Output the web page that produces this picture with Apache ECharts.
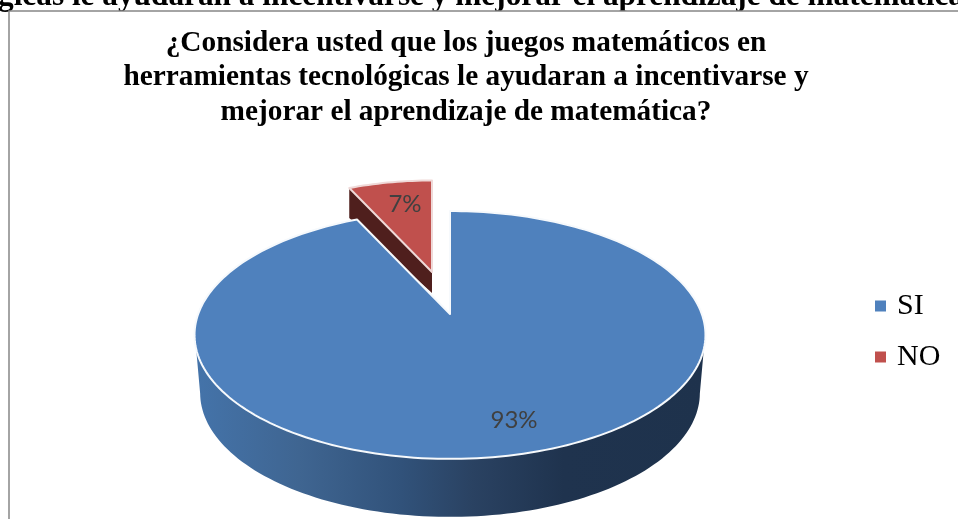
<!DOCTYPE html>
<html>
<head>
<meta charset="utf-8">
<style>html,body{margin:0;padding:0;background:#fff}#chart{width:958px;height:519px}</style>
<script src="https://cdn.jsdelivr.net/npm/echarts@6/dist/echarts.min.js"></script>
</head>
<body>
<div id="chart"></div>
<script>
// Survey answers, in percent
const categories = ['SI', 'NO'];
const shares = [93, 7];
const titleLines = [
  '¿Considera usted que los juegos matemáticos en',
  'herramientas tecnológicas le ayudaran a incentivarse y',
  'mejorar el aprendizaje de matemática?'
];
const headingLine = 'tecnológicas le ayudaran a incentivarse y mejorar el aprendizaje de matemática?';

// Tilted-disc projection: a unit circle seen in perspective, k is the foreshortening
const k = -0.169;
const sliceLook = {
  SI: {
    apex: [450, 314], a: 251.8, b: 120.4,
    base: { dy: 58, sx: 0.978 },
    top: '#4f81bd', edge: '#f6f9fc', label: [514, 420],
    wallArc: { top: [106, 254], bottom: [100, 260] }
  },
  NO: {
    apex: [432, 272], a: 224, b: 107,
    depth: 24,
    top: '#c0504d', edge: '#efd9d8', label: [405, 204],
    wall: '#4f1f1d'
  }
};
const wallFill = {
  type: 'linear', x: 198, y: 0, x2: 706, y2: 0, global: true,
  colorStops: [
    { offset: 0, color: '#4473a9' },
    { offset: 0.2, color: '#3f6591' },
    { offset: 0.4, color: '#31527a' },
    { offset: 0.54, color: '#2a4262' },
    { offset: 0.72, color: '#1f334e' },
    { offset: 1, color: '#1e324c' }
  ]
};

function project(look, deg, dy, sx) {
  const t = deg * Math.PI / 180;
  const u = Math.sin(t), v = -Math.cos(t);
  const w = 1 + k * v;
  return [look.apex[0] + (sx || 1) * look.a * u / w, look.apex[1] + (dy || 0) + look.b * v / w];
}

function sweep(look, from, to, dy, sx) {
  const pts = [];
  const n = Math.max(2, Math.ceil(Math.abs(to - from) / 1.5));
  for (let i = 0; i <= n; i++) pts.push(project(look, from + (to - from) * i / n, dy, sx));
  return pts;
}

function makeSeries(name, index) {
  const look = sliceLook[name];
  const total = shares.reduce((s, x) => s + x, 0);
  const before = shares.slice(0, index).reduce((s, x) => s + x, 0);
  return {
    type: 'custom',
    name: name,
    coordinateSystem: 'none',
    silent: true,
    z: 10 + (index === 0 ? 2 : 1),
    itemStyle: { color: look.top },
    data: [[shares[index]]],
    renderItem: function (params, api) {
      const value = api.value(0);
      const start = before / total * 360;
      const end = start + value / total * 360;
      const children = [];
      if (look.wallArc) {
        const upper = sweep(look, look.wallArc.top[0], look.wallArc.top[0], 0);
        const lower = sweep(look, look.wallArc.bottom[0], look.wallArc.bottom[1], look.base.dy, look.base.sx);
        const upperEnd = sweep(look, look.wallArc.top[1], look.wallArc.top[1], 0);
        children.push({
          type: 'polygon',
          shape: { points: [upper[0]].concat(lower, [upperEnd[0]]) },
          style: { fill: wallFill }
        });
      } else {
        const corner = project(look, start);
        children.push({
          type: 'polygon',
          shape: { points: [look.apex, corner, [corner[0], corner[1] + look.depth + 6], [look.apex[0], look.apex[1] + look.depth - 3]] },
          style: { fill: look.wall }
        });
      }
      children.push({
        type: 'polygon',
        shape: { points: [look.apex].concat(sweep(look, start, end)) },
        style: { fill: look.top, stroke: look.edge, lineWidth: 2, lineJoin: 'round' }
      });
      children.push({
        type: 'text',
        x: look.label[0], y: look.label[1],
        style: {
          text: value + '%', fill: '#404040',
          font: '24px Lato, sans-serif',
          align: 'center', verticalAlign: 'middle'
        }
      });
      return { type: 'group', children: children };
    }
  };
}

const chart = echarts.init(document.getElementById('chart'), null, { renderer: 'canvas' });
chart.setOption({
  animation: false,
  backgroundColor: '#ffffff',
  title: {
    text: titleLines.join('\n'),
    left: 461, top: 21, textAlign: 'center',
    textStyle: {
      fontFamily: '"Liberation Serif", serif', fontWeight: 'bold',
      fontSize: 29.3, lineHeight: 34.5, color: '#000000'
    }
  },
  legend: {
    data: categories,
    orient: 'vertical',
    left: 875, top: 291, padding: 0,
    icon: 'rect',
    itemWidth: 11, itemHeight: 11, itemGap: 21,
    selectedMode: false,
    textStyle: {
      fontFamily: '"Liberation Serif", serif', fontSize: 30,
      color: '#000000', padding: [0, 0, 0, 6]
    }
  },
  graphic: [
    {
      type: 'text', x: -97.6, y: -19, z: 0, silent: true,
      style: {
        text: headingLine, fill: '#000000',
        font: 'bold 31.3px "Liberation Serif", serif'
      }
    },
    {
      type: 'rect', z: 1, silent: true,
      shape: { x: 9, y: 11, width: 1000, height: 600 },
      style: { fill: '#ffffff', stroke: '#878787', lineWidth: 1.5 }
    }
  ],
  series: categories.map(makeSeries).reverse()
});
</script>
</body>
</html>
